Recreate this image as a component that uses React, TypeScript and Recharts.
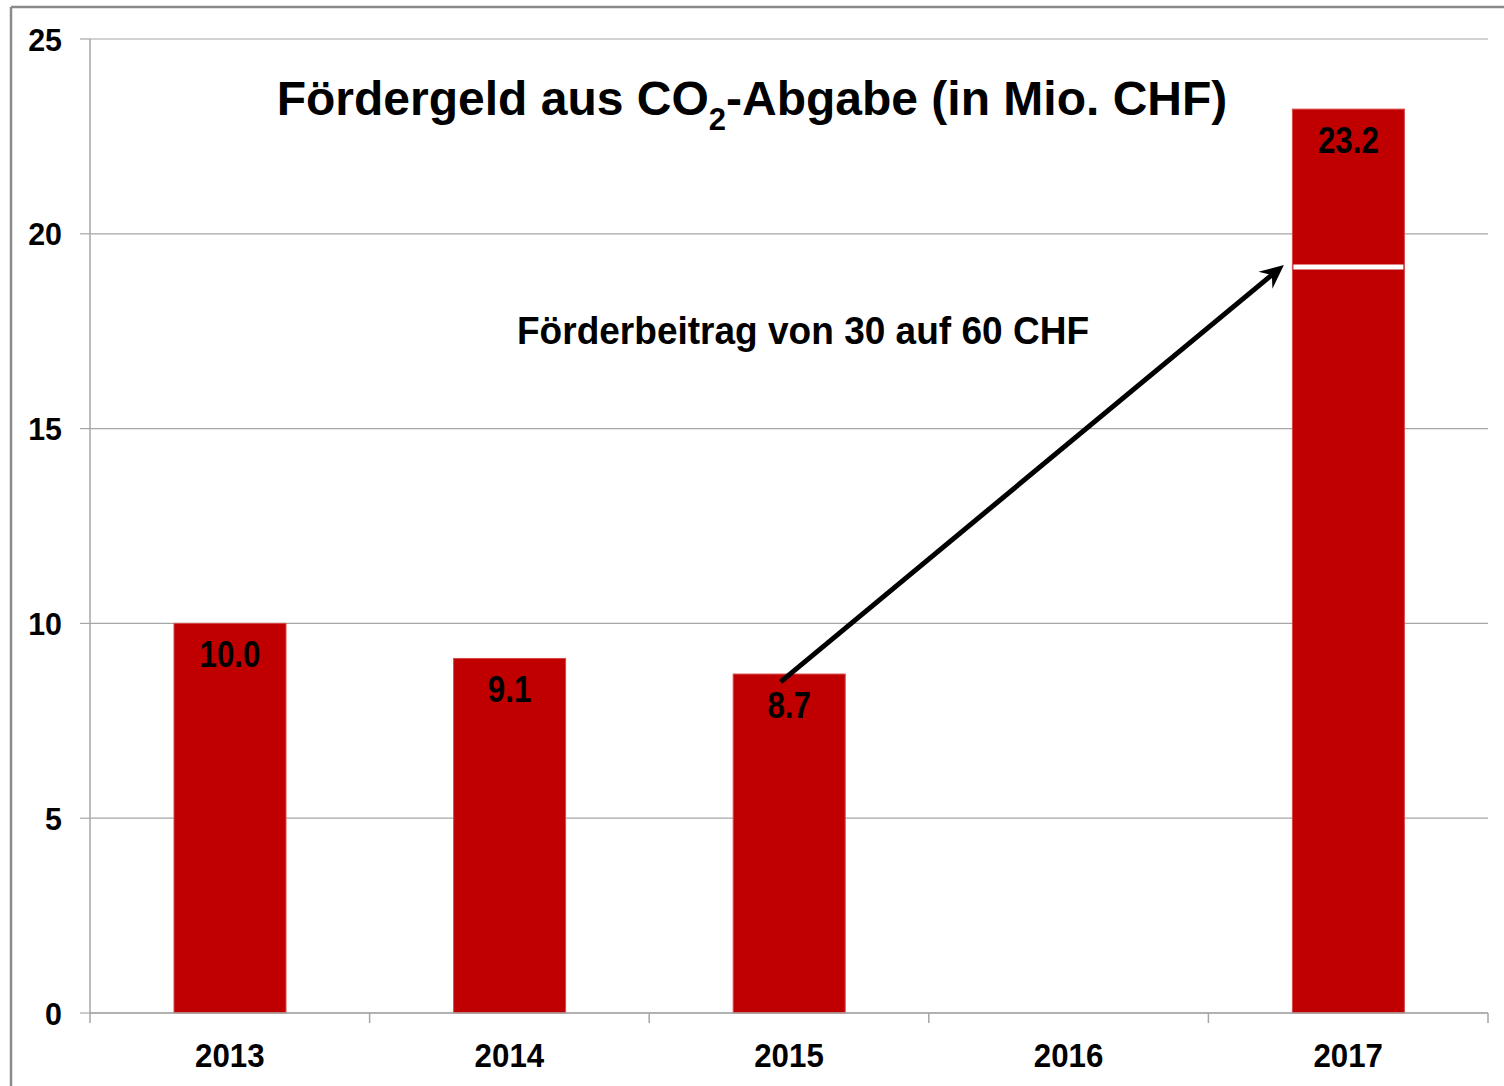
import React from 'react';
import { BarChart, Bar, XAxis, YAxis, CartesianGrid, LabelList, ReferenceLine } from 'recharts';

const years = ['2013', '2014', '2015', '2016', '2017'];
const positions = [0.5, 1.5, 2.5, 3.5, 4.5];
const values: (number | null)[] = [10.0, 9.1, 8.7, null, 23.2];
const splitAt: (number | null)[] = [null, null, null, null, 19.15];
const yTicks = [0, 5, 10, 15, 20, 25];
const boundaryTicks = [0, 1, 2, 3, 4, 5];
const arrowFrom = { x: 2.47, y: 8.5 };
const arrowTo = { x: 4.27, y: 19.2 };

const titleMain = 'Fördergeld aus CO';
const titleSub = '2';
const titleRest = '-Abgabe (in Mio. CHF)';
const annotation = 'Förderbeitrag von 30 auf 60 CHF';

const data = years.map((year, i) => ({ year, pos: positions[i], value: values[i], split: splitAt[i] }));

const FONT = '"Liberation Sans", Arial, Helvetica, sans-serif';
const RED = '#C00000';
const GRID = '#a6a6a6';

const BarShape = (props: any) => {
  const { x, y, width, height, payload } = props;
  if (!height || height <= 0) return <g />;
  const els = [
    <rect key="r" x={x} y={y} width={width} height={height} fill={RED} stroke="#d84848" strokeWidth={1} />,
  ];
  if (payload && payload.split != null && payload.value) {
    const ly = y + height * (1 - payload.split / payload.value);
    els.push(<line key="l" x1={x + 1} x2={x + width - 1} y1={ly} y2={ly} stroke="#ffffff" strokeWidth={5} />);
  }
  return <g>{els}</g>;
};

const BarLabel = (props: any) => {
  const { x, y, width, value } = props;
  if (value == null) return null;
  return (
    <text
      transform={`translate(${x + width / 2},${y + 44}) scale(0.87,1)`}
      textAnchor="middle"
      fontFamily={FONT}
      fontWeight="bold"
      fontSize={36}
      fill="#000"
    >
      {Number(value).toFixed(1)}
    </text>
  );
};

const YTick = (props: any) => {
  const { x, y, payload } = props;
  return (
    <text
      transform={`translate(${x},${y}) scale(0.95,1)`}
      dy="0.36em"
      textAnchor="end"
      fontFamily={FONT}
      fontWeight="bold"
      fontSize={32}
      fill="#000"
    >
      {payload.value}
    </text>
  );
};

const XTick = (props: any) => {
  const { x, y, payload } = props;
  return (
    <text
      transform={`translate(${x},${y + 42}) scale(0.92,1)`}
      textAnchor="middle"
      fontFamily={FONT}
      fontWeight="bold"
      fontSize={34}
      fill="#000"
    >
      {payload.value}
    </text>
  );
};

const NoTick = () => <g />;

const ArrowShape = (props: any) => {
  const { x1, y1, x2, y2 } = props;
  if ([x1, y1, x2, y2].some((v) => v == null || isNaN(v))) return <g />;
  const dx = x2 - x1;
  const dy = y2 - y1;
  const len = Math.sqrt(dx * dx + dy * dy);
  const ux = dx / len;
  const uy = dy / len;
  const headLen = 24;
  const headW = 11;
  const bx = x2 - ux * headLen;
  const by = y2 - uy * headLen;
  const nx = -uy;
  const ny = ux;
  const notchX = x2 - ux * headLen * 0.65;
  const notchY = y2 - uy * headLen * 0.65;
  return (
    <g>
      <line x1={x1} y1={y1} x2={notchX} y2={notchY} stroke="#000" strokeWidth={5} />
      <polygon
        points={`${x2},${y2} ${bx + nx * headW},${by + ny * headW} ${notchX},${notchY} ${bx - nx * headW},${by - ny * headW}`}
        fill="#000"
      />
    </g>
  );
};

export default function App() {
  return (
    <div style={{ position: 'absolute', left: 0, top: 0, width: 1504, height: 1086, background: '#fff' }}>
      <BarChart
        width={1504}
        height={1086}
        data={data}
        margin={{ top: 39, right: 16, left: 0, bottom: 0 }}
      >
        <CartesianGrid vertical={false} stroke={GRID} strokeWidth={1.2} xAxisId="b" />
        <XAxis
          xAxisId="a"
          dataKey="pos"
          type="number"
          domain={[0, 5]}
          ticks={boundaryTicks}
          allowDataOverflow
          height={12}
          tickSize={10}
          tick={NoTick}
          axisLine={{ stroke: GRID, strokeWidth: 1.5 }}
          tickLine={{ stroke: GRID, strokeWidth: 1.5 }}
        />
        <XAxis
          xAxisId="b"
          dataKey="year"
          height={61}
          tickSize={0}
          tickMargin={0}
          axisLine={false}
          tickLine={false}
          tick={XTick}
          interval={0}
        />
        <YAxis
          width={90}
          domain={[0, 25]}
          ticks={yTicks}
          tickSize={10}
          tickMargin={18}
          tick={YTick}
          axisLine={{ stroke: GRID, strokeWidth: 1.5 }}
          tickLine={{ stroke: GRID, strokeWidth: 1.2 }}
          interval={0}
        />
        <Bar xAxisId="b" dataKey="value" barSize={112} shape={BarShape} isAnimationActive={false}>
          <LabelList dataKey="value" content={BarLabel} />
        </Bar>
        <ReferenceLine
          xAxisId="a"
          segment={[arrowFrom, arrowTo]}
          shape={ArrowShape}
          stroke="#000"
          ifOverflow="visible"
        />
      </BarChart>
      <svg
        width={1504}
        height={1086}
        style={{ position: 'absolute', left: 0, top: 0, pointerEvents: 'none' }}
      >
        <line x1={11} y1={7} x2={11} y2={1086} stroke="#8a8a8a" strokeWidth={2.5} />
        <line x1={11} y1={7} x2={1504} y2={7} stroke="#8a8a8a" strokeWidth={2.5} />
        <text
          transform="translate(752,115)"
          textAnchor="middle"
          fontFamily={FONT}
          fontWeight="bold"
          fontSize={48}
          fill="#000"
        >
          {titleMain}
          <tspan fontSize={31} dy={15}>{titleSub}</tspan>
          <tspan dy={-15}>{titleRest}</tspan>
        </text>
        <text
          transform="translate(803,344) scale(0.95,1)"
          textAnchor="middle"
          fontFamily={FONT}
          fontWeight="bold"
          fontSize={39}
          fill="#000"
        >
          {annotation}
        </text>
      </svg>
    </div>
  );
}
